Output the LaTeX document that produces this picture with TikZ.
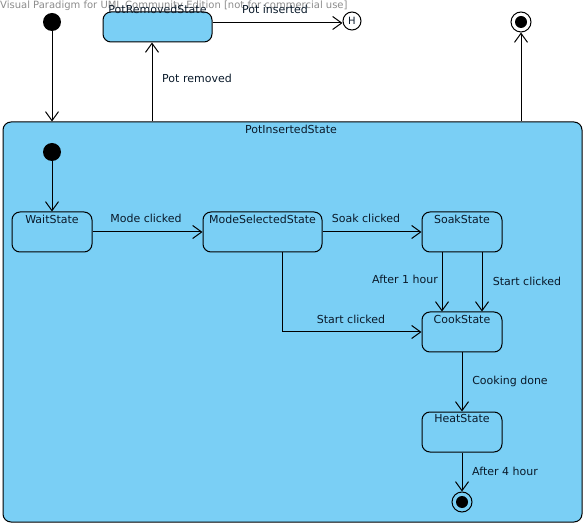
\documentclass[tikz,border=0pt]{standalone}
\usepackage{fontspec}
\setmainfont{DejaVu Sans}
\usetikzlibrary{arrows.meta}
\definecolor{stfill}{HTML}{7ACFF5}
\definecolor{txt}{HTML}{0A1A2A}
\definecolor{wm}{HTML}{8C8C8C}
\tikzset{
  every node/.style={font=\fontsize{11}{13}\selectfont, text=txt},
  stbox/.style={draw, line width=1pt, fill=stfill, rounded corners=8pt, inner sep=0pt,
    minimum width=80pt, minimum height=40pt},
  sttitle/.style={anchor=north, inner sep=0pt, yshift=-3pt},
  initst/.style={circle, fill=black, inner sep=0pt, minimum size=18pt},
  finst/.style={circle, draw, line width=1pt, inner sep=0pt, minimum size=20pt,
    path picture={\fill[black] (path picture bounding box.center) circle (6pt);}},
  histst/.style={circle, draw, line width=1pt, fill=white, inner sep=0pt, minimum size=18pt},
  trans/.style={line width=1pt, -{Straight Barb[length=9pt, width=13pt, line width=1pt]}},
  lbl/.style={inner sep=0pt},
}
\begin{document}
\begin{tikzpicture}[x=1pt, y=-1pt]
\useasboundingbox (0,0) rectangle (586,526);

% watermark of the modelling tool
\node[anchor=west, inner sep=0pt, text=wm, font=\fontsize{10}{12}\selectfont] (wmark) at (0,6)
  {Visual Paradigm for UML Community Edition [not for commercial use]};

% composite state
\node[draw, line width=1pt, fill=stfill, rounded corners=8pt, inner sep=0pt,
  minimum width=579pt, minimum height=400pt] (pis) at (292.5,322) {};
\node[lbl] (pist) at (291,129) {PotInsertedState};

% top level
\node[initst] (init) at (52,22) {};
\node[stbox, minimum width=109pt, minimum height=30pt] (prs) at (157.5,27) {};
\node[lbl] (prst) at (157.5,9) {PotRemovedState};
\node[histst] (hist) at (352,21) {\fontsize{10}{12}\selectfont H};
\node[finst] (fin) at (521,22) {};

% inner states
\node[initst] (iinit) at (52,152) {};
\node[stbox] (wait) at (52,232) {};
\node[sttitle] at (wait.north) {WaitState};
\node[stbox, minimum width=119pt] (mode) at (262.5,232) {};
\node[sttitle] at (mode.north) {ModeSelectedState};
\node[stbox] (soak) at (462,232) {};
\node[sttitle] at (soak.north) {SoakState};
\node[stbox] (cook) at (462,332) {};
\node[sttitle] at (cook.north) {CookState};
\node[stbox] (heat) at (462,432) {};
\node[sttitle] at (heat.north) {HeatState};
\node[finst] (ifin) at (462,502) {};

% transitions
\draw[trans] (init) -- (init |- pis.north);
\draw[trans] (pis.north -| 152,0) -- (prs.south -| 152,0);
\node[lbl] at (197,78) {Pot removed};
\draw[trans] (prs.east |- 0,23) -- (hist.west |- 0,23);
\node[lbl] at (275,9) {Pot inserted};
\draw[trans] (pis.north -| fin) -- (fin);

\draw[trans] (iinit) -- (wait.north);
\draw[trans] (wait) -- (mode);
\node[lbl] at (146,218) {Mode clicked};
\draw[trans] (mode) -- (soak);
\node[lbl] at (366,218) {Soak clicked};
\draw[trans] (soak.south -| 442,0) -- (cook.north -| 442,0);
\node[lbl] at (405,279) {After 1 hour};
\draw[trans] (soak.south -| 482,0) -- (cook.north -| 482,0);
\node[lbl] at (527,281) {Start clicked};
\draw[trans] (mode.south -| 282,0) -- (282,332) -- (cook.west);
\node[lbl] at (351,319) {Start clicked};
\draw[trans] (cook) -- (heat);
\node[lbl] at (510,381) {Cooking done};
\draw[trans] (heat) -- (ifin);
\node[lbl] at (505,471) {After 4 hour};
\end{tikzpicture}
\end{document}
